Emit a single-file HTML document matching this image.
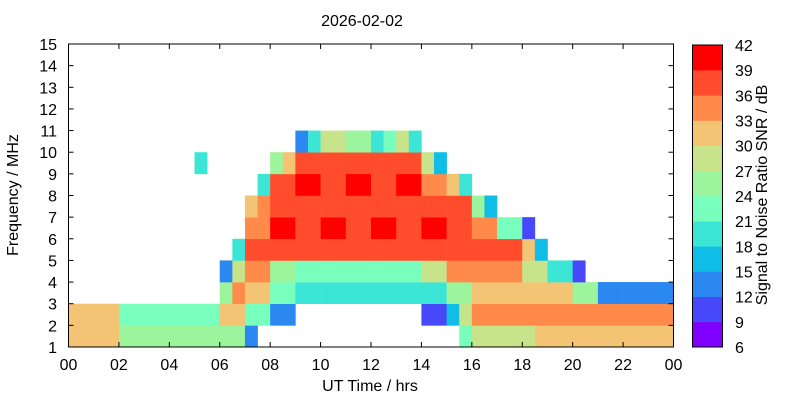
<!DOCTYPE html>
<html><head><meta charset="utf-8"><style>
body{margin:0;background:#fff;width:800px;height:400px;overflow:hidden;font-family:"Liberation Sans",Arial,sans-serif}
svg text{font-family:"Liberation Sans",Arial,sans-serif;font-size:16px;fill:#000}
</style></head><body>
<svg id="chart" width="800" height="400" xmlns="http://www.w3.org/2000/svg">
<text x="362" y="26" text-anchor="middle" font-size="15">2026-02-02</text>
<g id="cells"></g>
<g id="axes"></g>
<g id="cbar"></g>
<text transform="translate(18,195) rotate(-90)" text-anchor="middle">Frequency / MHz</text>
<text x="370" y="391" text-anchor="middle">UT Time / hrs</text>
<text transform="translate(767,195) rotate(-90)" text-anchor="middle">Signal to Noise Ratio SNR / dB</text>
</svg>
<script>
// half-hour columns (48), frequency bands 1..14 MHz, SNR dB (0 = no data)
const band1 = [30,30,30,30,24,24,24,24,24,24,24,24,26,26,12,0,0,0,0,0,0,0,0,0,0,0,0,0,0,0,0,22,28,28,28,28,28,30,30,30,30,30,30,30,30,30,30,30];
const band2 = [30,30,30,30,22,22,22,22,22,22,22,22,30,30,22,22,12,12,0,0,0,0,0,0,0,0,0,0,10,10,15,28,33,33,33,33,33,33,33,33,33,33,33,33,33,33,33,33];
const band3 = [0,0,0,0,0,0,0,0,0,0,0,0,24,33,30,30,22,22,19,19,19,19,19,19,19,19,19,19,20,20,26,26,30,30,30,30,30,30,30,30,24,24,12,12,12,12,12,12];
const band4 = [0,0,0,0,0,0,0,0,0,0,0,0,12,28,33,33,26,26,22,22,22,22,22,22,22,22,22,22,27,27,33,33,33,33,33,33,28,28,18,18,10,0,0,0,0,0,0,0];
const band5 = [0,0,0,0,0,0,0,0,0,0,0,0,0,20,38,38,36,36,36,36,36,36,36,36,36,36,36,36,38,38,38,38,38,38,38,38,30,15,0,0,0,0,0,0,0,0,0,0];
const band6 = [0,0,0,0,0,0,0,0,0,0,0,0,0,0,35,35,39,39,36,36,39,39,36,36,39,39,36,36,39,39,37,37,34,34,22,22,10,0,0,0,0,0,0,0,0,0,0,0];
const band7 = [0,0,0,0,0,0,0,0,0,0,0,0,0,0,30,35,37,37,37,37,37,37,37,37,37,37,37,37,38,38,38,38,25,15,0,0,0,0,0,0,0,0,0,0,0,0,0,0];
const band8 = [0,0,0,0,0,0,0,0,0,0,0,0,0,0,0,20,36,36,39,39,36,36,39,39,36,36,39,39,35,35,30,20,0,0,0,0,0,0,0,0,0,0,0,0,0,0,0,0];
const band9 = [0,0,0,0,0,0,0,0,0,0,20,0,0,0,0,0,25,30,36,36,36,36,36,36,36,36,36,36,28,15,0,0,0,0,0,0,0,0,0,0,0,0,0,0,0,0,0,0];
const band10= [0,0,0,0,0,0,0,0,0,0,0,0,0,0,0,0,0,0,12,20,28,28,26,26,18,22,28,18,0,0,0,0,0,0,0,0,0,0,0,0,0,0,0,0,0,0,0,0];
const bands = [band1,band2,band3,band4,band5,band6,band7,band8,band9,band10];
const xTickLabels = ["00","02","04","06","08","10","12","14","16","18","20","22","00"];
const yTickLabels = [1,2,3,4,5,6,7,8,9,10,11,12,13,14,15];
const cbarLevels = [6,9,12,15,18,21,24,27,30,33,36,39,42];
const cbarColors = ["#8000ff","#4848fb","#2a88f0","#10bde6","#3ce6d6","#78ffbe","#9cf59c","#c8e48a","#f2c474","#ff8a4a","#ff4c2c","#ff0000"];

const X0=68.5,X1=673.5,Y0=347,Y1=44;
const xs=h=>X0+(h/24)*(X1-X0);
const ys=f=>Y0-((f-1)/14)*(Y0-Y1);
const NS="http://www.w3.org/2000/svg";
function mk(tag,attrs,parent){const e=document.createElementNS(NS,tag);for(const k in attrs)e.setAttribute(k,attrs[k]);parent.appendChild(e);return e;}
function colorFor(v){let i=Math.floor((v-6)/3);i=Math.max(0,Math.min(11,i));return cbarColors[i];}
const cells=document.getElementById('cells');
bands.forEach((row,bi)=>{row.forEach((v,c)=>{if(!v)return;
 const r=mk('rect',{x:xs(c/2),y:ys(bi+2),width:xs((c+1)/2)-xs(c/2)+0.3,height:ys(bi+1)-ys(bi+2)+0.3,fill:colorFor(v)},cells);
 
 
});});
const ax=document.getElementById('axes');
const frame=mk('rect',{x:X0,y:Y1,width:X1-X0,height:Y0-Y1,fill:'none',stroke:'#000','stroke-width':1},ax);


xTickLabels.forEach((l,i)=>{const x=xs(i*2);
 mk('line',{x1:x,y1:Y1,x2:x,y2:Y1+5,stroke:'#000'},ax);
 mk('line',{x1:x,y1:Y0,x2:x,y2:Y0-5,stroke:'#000'},ax);
 const t=mk('text',{x:x,y:370,'text-anchor':'middle'},ax);t.textContent=l;
 
 
});
yTickLabels.forEach(f=>{const y=ys(f);
 mk('line',{x1:X0,y1:y,x2:X0+5,y2:y,stroke:'#000'},ax);
 mk('line',{x1:X1,y1:y,x2:X1-5,y2:y,stroke:'#000'},ax);
 const t=mk('text',{x:57,y:y+6,'text-anchor':'end'},ax);t.textContent=f;
 
 
});
const cb=document.getElementById('cbar');
const CX=692.5,CW=30,CY0=347,CY1=45;
const cy=v=>CY0-((v-6)/36)*(CY0-CY1);
cbarColors.forEach((c,i)=>{
 const r=mk('rect',{x:CX,y:cy(cbarLevels[i+1]),width:CW,height:cy(cbarLevels[i])-cy(cbarLevels[i+1])+0.3,fill:c},cb);
 
 
});
mk('rect',{x:CX,y:CY1,width:CW,height:CY0-CY1,fill:'none',stroke:'#000'},cb);
cbarLevels.forEach(v=>{const t=mk('text',{x:735,y:cy(v)+6},cb);t.textContent=v;
 
 
});
</script>
</body></html>
